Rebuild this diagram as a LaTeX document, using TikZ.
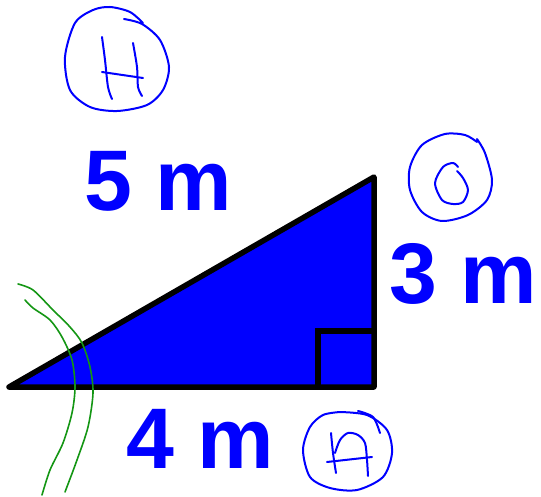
\documentclass[tikz,border=0pt]{standalone}
\usepackage{fontspec}
\setmainfont{Liberation Sans}
\begin{document}
\begin{tikzpicture}[x=1pt,y=-1pt,
  lbl/.style={anchor=base west,inner sep=0pt,text=blue,font=\fontsize{86}{92}\selectfont\bfseries},
  pen/.style={draw=blue,line width=2pt,line cap=round,line join=round},
  grn/.style={draw={rgb,255:red,20;green,150;blue,20},line width=1.6pt,line cap=round},
  edge/.style={draw=black,line width=5.5pt}]
\useasboundingbox (0,0) rectangle (541,497);
% triangle
\coordinate (L) at (9,387);
\coordinate (R) at (374,387);
\coordinate (T) at (374,177);
\fill[blue] (L) -- (R) -- (T) -- cycle;
\coordinate (s1) at (318,387);
\coordinate (s2) at (318,331);
\coordinate (s3) at (374,331);
\draw[edge] (s1) -- (s2) -- (s3);
\draw[edge,line join=round] (L) -- (R) -- (T) -- cycle;
% labels
\node[lbl] (t5) at (84,211) {5 m};
\node[lbl] (t3) at (389,303) {3 m};
\node[lbl] (t4) at (126,468) {4 m};
% green arcs
\draw[grn] plot[smooth] coordinates {(18,284) (33,290) (53,310) (70,327) (82,343) (90,367) (93,393) (88,427) (77,460) (65,492)};
\draw[grn] plot[smooth] coordinates {(25,300) (33,308) (50,320) (62,337) (72,360) (75,387) (72,413) (63,443) (50,470) (42,495)};
% H circle
\draw[pen] plot[smooth] coordinates {(124,19) (142,24) (160,40) (169,67) (163,90) (147,105) (117,111) (90,107) (70,90) (65,57) (75,23) (93,10) (110,7) (130,12) (143,23)};
\draw[pen] plot[smooth] coordinates {(102,37) (105,60) (108,87) (112,99)};
\draw[pen] plot[smooth] coordinates {(133,43) (137,67) (138,87) (142,96)};
\draw[pen] (102,72) -- (143,78);
% O circle
\draw[pen] plot[smooth] coordinates {(477,139) (485,153) (492,180) (487,200) (468,215) (442,221) (422,212) (410,190) (410,167) (422,145) (445,134) (465,135) (477,142)};
\draw[pen] plot[smooth] coordinates {(458,167) (453,163) (443,167) (435,183) (442,200) (453,204) (463,202) (468,190) (463,178) (457,171)};
% A circle
\draw[pen] plot[smooth] coordinates {(340,412) (367,415) (387,430) (392,453) (383,477) (357,490) (330,488) (310,477) (303,450) (310,427) (323,415) (340,412)};
\draw[pen] plot[smooth] coordinates {(358,411) (373,417) (380,433)};
\draw[pen] plot[smooth] coordinates {(331,433) (333,453) (336,473)};
\draw[pen] plot[smooth] coordinates {(335,453) (340,440) (348,433) (358,435) (365,443) (367,460) (368,476)};
\draw[pen] (327,462) -- (372,457);
\end{tikzpicture}
\end{document}
